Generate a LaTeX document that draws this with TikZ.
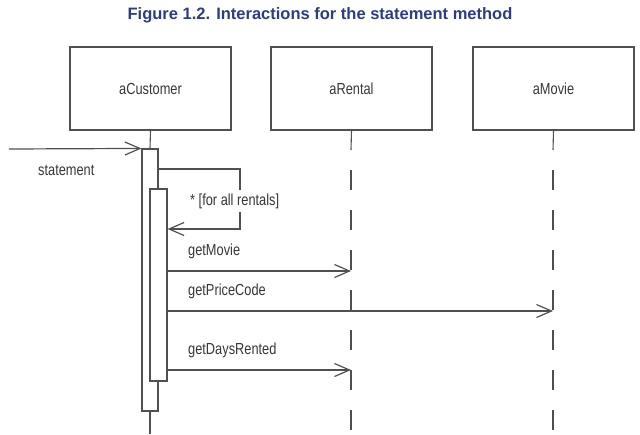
\documentclass[tikz,border=0pt]{standalone}
\usepackage{fontspec}
\setmainfont{Liberation Sans}
\newfontfamily\narrowfont[FakeStretch=0.8]{Liberation Sans}
\usetikzlibrary{arrows.meta}
\definecolor{titleblue}{RGB}{45,60,132}
\definecolor{linegray}{RGB}{80,80,80}
\definecolor{textgray}{RGB}{55,55,55}
\tikzset{
  obj/.style={draw=linegray, line width=1.3pt, minimum width=161pt, minimum height=83pt,
    inner sep=0pt, font=\fontsize{16}{18}\narrowfont, text=textgray},
  bar/.style={draw=linegray, fill=white, line width=1.1pt, inner sep=0pt},
  life/.style={draw=linegray, line width=1.1pt},
  dashlife/.style={draw=linegray, line width=1.1pt, dash pattern=on 20pt off 20pt},
  msg/.style={draw=linegray, line width=1.2pt, -{Straight Barb[length=15pt,width=13pt,line width=1.2pt]}},
  lbl/.style={anchor=west, inner sep=0pt, font=\fontsize{16}{18}\narrowfont, text=textgray},
}
\begin{document}
\begin{tikzpicture}[x=1pt,y=-1pt]
\useasboundingbox (0,0) rectangle (640,434);
\node[font=\fontsize{16.5}{18}\selectfont\bfseries, text=titleblue] (title) at (320,15) {Figure 1.2. Interactions for the statement method};

\node[obj] (cust) at (150.5,88.5) {aCustomer};
\node[obj] (rent) at (351.5,88.5) {aRental};
\node[obj] (movie) at (553.5,88.5) {aMovie};

% coordinates
\coordinate (in) at (9,149);
\coordinate (rs) at (351,150);
\coordinate (rd) at (351,170);
\coordinate (rb) at (351,434);
\coordinate (ms) at (553,150);
\coordinate (md) at (553,170);
\coordinate (mb) at (553,434);
\coordinate (cb) at (150,434);
\coordinate (loopA) at (240,169);
\coordinate (loopB) at (240,229);
\coordinate (y1) at (0,271);
\coordinate (y2) at (0,311);
\coordinate (y3) at (0,370);

% lifelines
\draw[life] (rent.south) -- (rs);
\draw[dashlife] (rd) -- (rb);
\draw[life] (movie.south) -- (ms);
\draw[dashlife] (md) -- (mb);

% activation bars
\node[bar, minimum width=16pt, minimum height=262pt] (outer) at (150,280) {};
\node[bar, minimum width=17pt, minimum height=192pt] (inner) at (158.5,285) {};
\draw[life] (cust.south) -- (outer.north);
\draw[life] (outer.south) -- (cb);

% incoming message
\draw[msg] (in) -- (outer.north west);
\node[lbl] (lstatement) at (38,170) {statement};

% self call
\draw[msg] (outer.east |- loopA) -- (loopA) -- (loopB) -- (inner.east |- loopB);
\node[lbl, fill=white, inner ysep=4pt, inner xsep=2pt] (lloop) at (188,201) {* [for all rentals]};

% messages
\draw[msg] (inner.east |- y1) -- (rs |- y1);
\node[lbl] (l1) at (188,251) {getMovie};
\draw[msg] (inner.east |- y2) -- (ms |- y2);
\node[lbl] (l2) at (188,291) {getPriceCode};
\draw[msg] (inner.east |- y3) -- (rs |- y3);
\node[lbl] (l3) at (188,350) {getDaysRented};
\end{tikzpicture}
\end{document}
